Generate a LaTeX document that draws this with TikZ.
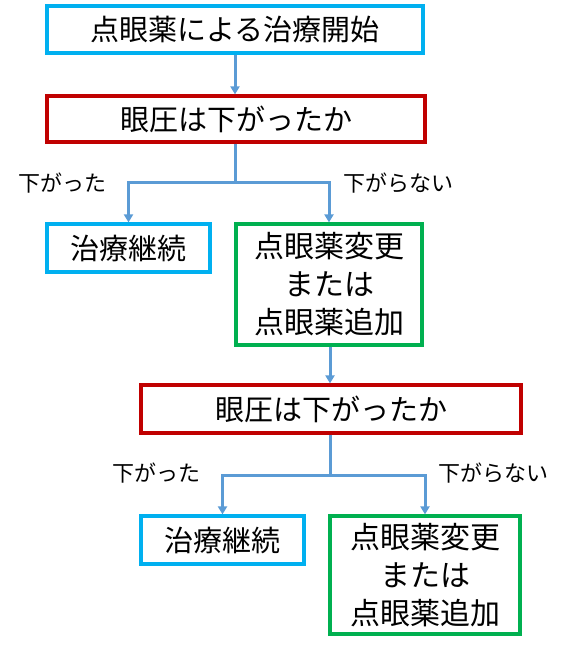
\documentclass[tikz,border=0pt]{standalone}
\usepackage{fontspec}
\setmainfont{Noto Sans CJK JP}
\usetikzlibrary{arrows.meta}
\definecolor{cbox}{HTML}{00B0F0}
\definecolor{rbox}{HTML}{C00000}
\definecolor{gbox}{HTML}{00B050}
\definecolor{conn}{HTML}{5B9BD5}
\begin{document}
\begin{tikzpicture}[x=1pt,y=-1pt,
  box/.style={draw,line width=3.2pt,fill=white,inner sep=0pt,align=center,
    font=\fontsize{29}{38}\selectfont},
  cyanbox/.style={box,draw=cbox},
  redbox/.style={box,draw=rbox},
  greenbox/.style={box,draw=gbox,font=\fontsize{30}{38}\selectfont},
  lbl/.style={font=\fontsize{22}{24}\selectfont,inner sep=0pt},
  conline/.style={draw=conn,line width=3pt},
  conarrow/.style={conline,-{Triangle[width=9pt,length=8pt]}}]
\useasboundingbox (0,0) rectangle (564,652);
\node[cyanbox,minimum width=376pt,minimum height=47pt] (b1) at (235,29.5) {点眼薬による治療開始};
\node[redbox,minimum width=378pt,minimum height=46pt] (b2) at (236,119) {眼圧は下がったか};
\node[cyanbox,minimum width=163pt,minimum height=48pt] (b3) at (128.5,248) {治療継続};
\node[greenbox,minimum width=186pt,minimum height=121pt] (b4) at (329,284.5) {点眼薬変更\\または\\点眼薬追加};
\node[redbox,minimum width=380pt,minimum height=48pt] (b5) at (331,409) {眼圧は下がったか};
\node[cyanbox,minimum width=163pt,minimum height=48pt] (b6) at (222.5,540) {治療継続};
\node[greenbox,minimum width=190pt,minimum height=118pt] (b7) at (425,575) {点眼薬変更\\または\\点眼薬追加};
\node[lbl] (l1) at (62,183) {下がった};
\node[lbl] (l2) at (398,183) {下がらない};
\node[lbl] (l3) at (156,473) {下がった};
\node[lbl] (l4) at (493,473) {下がらない};
\coordinate (j1) at (235,183);
\coordinate (j2) at (330,475);
\draw[conarrow] (b1.south -| j1) -- (b2.north -| j1);
\draw[conline] (b2.south -| j1) -- (j1);
\draw[conarrow] (j1) -| (b3.north);
\draw[conarrow] (j1) -| (b4.north);
\draw[conarrow] (b4.south -| j2) -- (b5.north -| j2);
\draw[conline] (b5.south -| j2) -- (j2);
\draw[conarrow] (j2) -| (b6.north);
\draw[conarrow] (j2) -| (b7.north);
\end{tikzpicture}
\end{document}
